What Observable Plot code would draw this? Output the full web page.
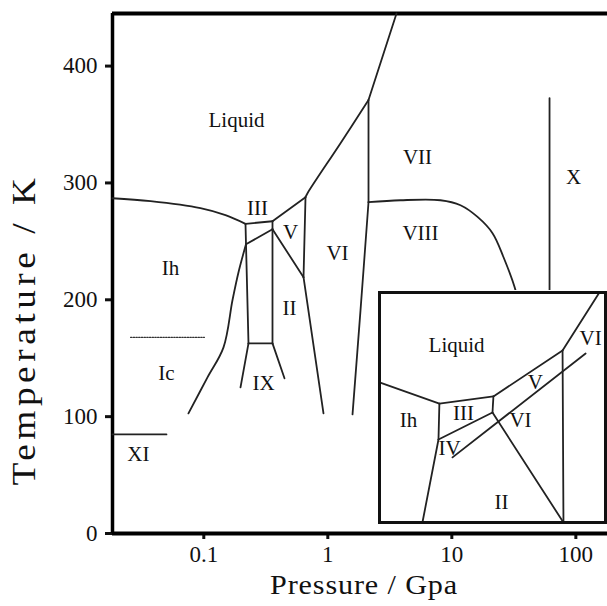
<!DOCTYPE html>
<html>
<head>
<meta charset="utf-8">
<script src="https://cdn.jsdelivr.net/npm/d3@7"></script>
<script src="https://cdn.jsdelivr.net/npm/@observablehq/plot@0.6"></script>
<style>
  html, body { margin: 0; padding: 0; background: #fff; }
  #wrap { position: relative; width: 607px; height: 606px; overflow: hidden; }
  #inset { position: absolute; left: 377px; top: 290px; }
</style>
</head>
<body>
<div id="wrap"><div id="main"></div><div id="inset"></div></div>
<script>
// ---------- scales / ticks ----------
const xDomain = [0.01836, 180];   // Pressure (GPa), log
const yDomain = [0, 445];         // Temperature (K)
const xTicks = [0.1, 1, 10, 100];
const yTicks = [0, 100, 200, 300, 400];

// ---------- phase boundaries (main chart): [pressure GPa, temperature K] ----------
const ihLiquid  = [[0.01836, 286.9], [0.0372, 284.4], [0.094, 278.4], [0.1496, 272.4], [0.2169, 265.0]];
const iiiLiquid = [[0.2169, 265.0], [0.3581, 267.2]];
const vLiquid   = [[0.3581, 267.2], [0.661, 287.8]];
const viLiquid  = [[0.661, 287.8], [0.686, 291.2], [1.266, 334.0], [2.129, 370.9]];
const viiLiquid = [[2.129, 370.9], [3.581, 445]];
const viVii     = [[2.129, 370.9], [2.129, 283.5]];
const viViii    = [[2.129, 283.5], [1.835, 191.0], [1.582, 101.9]];
const viiViii   = [[2.129, 283.5], [3.855, 285.2], [8.10, 285.2], [11.75, 280.9], [16.12, 270.9], [21.29, 257.0], [26.12, 236.4], [32.63, 208.1], [33.6, 200]];
const xLine     = [[61.36, 372.6], [61.36, 200]];
const ihIii     = [[0.2169, 265.0], [0.2293, 162.7]];
const iiiV      = [[0.3581, 267.2], [0.3581, 260.4]];
const iiiII     = [[0.2189, 247.5], [0.3581, 260.4]];
const iiRight   = [[0.3581, 260.4], [0.3581, 162.7]];
const ixTop     = [[0.2293, 162.7], [0.3581, 162.7]];
const ixLeft    = [[0.2293, 162.7], [0.1977, 125.1]];
const ixRight   = [[0.3581, 162.7], [0.4474, 132.8]];
const ihIc      = [[0.2189, 247.5], [0.1905, 223.6], [0.1703, 199.6], [0.1442, 159.3], [0.1071, 133.6], [0.0752, 102.8]];
const vII       = [[0.3581, 260.4], [0.637, 219.3]];
const vVi       = [[0.661, 287.8], [0.637, 219.3]];
const viII      = [[0.637, 219.3], [0.923, 102.8]];
const icDotted  = [[0.02564, 167.9], [0.1013, 167.9]];
const xiLine    = [[0.01836, 84.8], [0.0500, 84.8]];

const straightSegs = [iiiLiquid, vLiquid, viiLiquid, viVii, xLine, ihIii, iiiV, iiiII, iiRight, ixTop, ixLeft, ixRight, vII, vVi, viII, xiLine];
const curvedSegs = [ihLiquid, viLiquid, viViii, viiViii, ihIc];

// ---------- region labels (main) ----------
const mainLabels = ["Liquid", "VII", "X", "VIII", "VI", "III", "V", "II", "IX", "Ih", "Ic", "XI"];
const mainLabelP = [0.1835, 5.29, 95.8, 5.59, 1.197, 0.271, 0.50, 0.491, 0.303, 0.0539, 0.050, 0.0297];
const mainLabelT = [353.7, 322.1, 304.9, 257.0, 239.8, 278.4, 257.8, 192.7, 128.5, 227.0, 137.0, 67.7];

// ---------- inset (schematic, 0–100 units) ----------
const inIhLiq  = [[0, 60.9], [26.5, 51.7]];
const inIhIII  = [[26.5, 51.7], [26.1, 36.1]];
const inIIILiq = [[26.5, 51.7], [50.4, 54.8]];
const inIIIV   = [[50.4, 54.8], [50.0, 47.8]];
const inIIIII  = [[26.1, 36.1], [50.0, 47.8]];
const inIhII   = [[26.1, 36.1], [19.0, 0]];
const inVLiq   = [[50.4, 54.8], [81.0, 74.8]];
const inVILiq  = [[81.0, 74.8], [97.3, 100]];
const inVVI    = [[81.0, 74.8], [81.4, 0]];
const inIIVI   = [[50.0, 47.8], [81.4, 0]];
const inIV     = [[32.3, 28.3], [91.2, 73.5]];
const insetSegs = [inIhLiq, inIhIII, inIIILiq, inIIIV, inIIIII, inIhII, inVLiq, inVILiq, inVVI, inIIVI, inIV];

const insetLabels = ["Liquid", "Ih", "III", "IV", "V", "VI", "VI", "II"];
const insetLabelU = [34.1, 12.8, 37.2, 31.0, 69.0, 62.4, 93.4, 54.0];
const insetLabelV = [77.0, 44.3, 47.4, 32.2, 60.9, 44.3, 80.0, 8.7];

// ---------- build tables ----------
const toRows = (segs) => segs.flatMap((s, i) => s.map(([x, y]) => ({x, y, z: i})));
const straightRows = toRows(straightSegs);
const curvedRows = toRows(curvedSegs);
const insetRows = toRows(insetSegs);
const mainLabelRows = mainLabels.map((t, i) => ({t, x: mainLabelP[i], y: mainLabelT[i]}));
const insetLabelRows = insetLabels.map((t, i) => ({t, x: insetLabelU[i], y: insetLabelV[i]}));
const dottedRows = icDotted.map(([x, y]) => ({x, y}));

const FONT = "'Liberation Serif', 'Times New Roman', serif";
const INK = "#222";

const main = Plot.plot({
  width: 607,
  height: 606,
  marginLeft: 112,
  marginRight: 0,
  marginTop: 13,
  marginBottom: 73,
  style: {fontFamily: FONT, fontSize: "23px", color: "#111", background: "#fff"},
  x: {type: "log", domain: xDomain},
  y: {domain: yDomain},
  marks: [
    Plot.axisX({ticks: xTicks, tickFormat: d => String(d), tickSize: 6, tickPadding: 6, strokeWidth: 3, label: null, fontSize: 23}),
    Plot.axisY({ticks: yTicks, tickFormat: d => String(d), tickSize: 7, tickPadding: 8, strokeWidth: 3, label: null, fontSize: 23}),
    Plot.ruleX([xDomain[0]], {stroke: "#000", strokeWidth: 3.5}),
    Plot.ruleY([yDomain[0]], {stroke: "#000", strokeWidth: 4}),
    Plot.ruleY([yDomain[1]], {stroke: "#000", strokeWidth: 4}),
    Plot.line(straightRows, {x: "x", y: "y", z: "z", stroke: INK, strokeWidth: 1.8}),
    Plot.line(curvedRows, {x: "x", y: "y", z: "z", stroke: INK, strokeWidth: 1.8, curve: "catmull-rom"}),
    Plot.line(dottedRows, {x: "x", y: "y", stroke: "#333", strokeWidth: 1.2, strokeDasharray: "1.5,1.2"}),
    Plot.text(mainLabelRows, {x: "x", y: "y", text: "t", fontSize: 21, fill: "#111"}),
    Plot.text(["Pressure / Gpa"], {text: d => d, frameAnchor: "bottom", textAnchor: "middle", lineAnchor: "middle", dx: 4, dy: 52, fontSize: 28, fill: "#111"}),
    Plot.text(["Temperature / K"], {text: d => d, frameAnchor: "left", textAnchor: "middle", lineAnchor: "middle", dx: -88, dy: 56, rotate: -90, fontSize: 33, fill: "#111"})
  ]
});
document.getElementById("main").appendChild(main);
const stretch = (label, len, spacing) => d3.select(main).selectAll("text")
  .filter(function() { return this.textContent === label; })
  .style("letter-spacing", spacing + "px")
  .attr("textLength", len).attr("lengthAdjust", "spacingAndGlyphs");
stretch("Pressure / Gpa", 188, 0.8);
stretch("Temperature / K", 312, 4);

const inset = Plot.plot({
  width: 230,
  height: 234,
  margin: 2,
  style: {fontFamily: FONT, background: "#fff"},
  x: {domain: [0, 100], axis: null},
  y: {domain: [0, 100], axis: null},
  marks: [
    Plot.line(insetRows, {x: "x", y: "y", z: "z", stroke: INK, strokeWidth: 1.8}),
    Plot.text(insetLabelRows, {x: "x", y: "y", text: "t", fontSize: 21, fill: "#111"}),
    Plot.frame({stroke: "#111", strokeWidth: 3})
  ]
});
document.getElementById("inset").appendChild(inset);
</script>
</body>
</html>
